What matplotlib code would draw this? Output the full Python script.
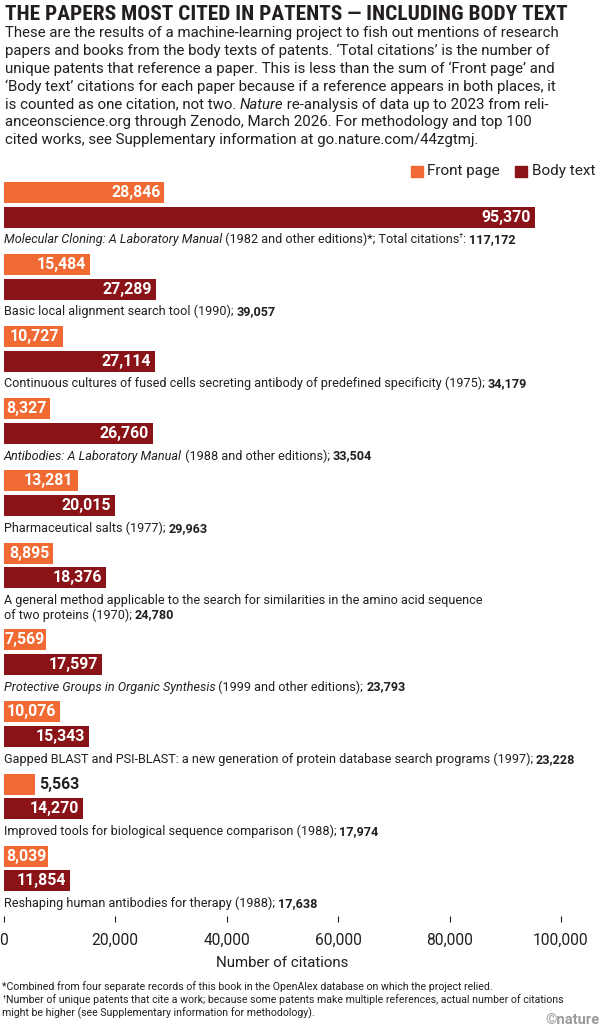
import re
import matplotlib
matplotlib.use("Agg")
import matplotlib.pyplot as plt
from matplotlib import font_manager as fm
from matplotlib.patches import Rectangle

W, H, DPI = 600, 1027, 100

# ---- data ----
front_page = [28846, 15484, 10727, 8327, 13281, 8895, 7569, 10076, 5563, 8039]
body_text = [95370, 27289, 27114, 26760, 20015, 18376, 17597, 15343, 14270, 11854]
total_citations = [117172, 39057, 34179, 33504, 29963, 24780, 23793, 23228, 17974, 17638]
# '_' toggles italic, '^' toggles superscript
paper_labels = [
    "_Molecular Cloning: A Laboratory Manual_ (1982 and other editions)*; Total citations^\u2020^: ",
    "Basic local alignment search tool (1990); ",
    "Continuous cultures of fused cells secreting antibody of predefined specificity (1975); ",
    "_Antibodies: A Laboratory Manual_ (1988 and other editions); ",
    "Pharmaceutical salts (1977); ",
    "A general method applicable to the search for similarities in the amino acid sequence\nof two proteins (1970); ",
    "_Protective Groups in Organic Synthesis_ (1999 and other editions); ",
    "Gapped BLAST and PSI-BLAST: a new generation of protein database search programs (1997); ",
    "Improved tools for biological sequence comparison (1988); ",
    "Reshaping human antibodies for therapy (1988); ",
]
x_ticks = [0, 20000, 40000, 60000, 80000, 100000]
legend_labels = ["Front page", "Body text"]

title = "THE PAPERS MOST CITED IN PATENTS \u2014 INCLUDING BODY TEXT"
subtitle = [
    "These are the results of a machine-learning project to fish out mentions of research",
    "papers and books from the body texts of patents. \u2018Total citations\u2019 is the number of",
    "unique patents that reference a paper. This is less than the sum of \u2018Front page\u2019 and",
    "\u2018Body text\u2019 citations for each paper because if a reference appears in both places, it",
    "is counted as one citation, not two. _Nature_ re-analysis of data up to 2023 from reli-",
    "anceonscience.org through Zenodo, March 2026. For methodology and top 100",
    "cited works, see Supplementary information at go.nature.com/44zgtmj.",
]
footnotes = [
    "*Combined from four separate records of this book in the OpenAlex database on which the project relied.",
    "^\u2020^Number of unique patents that cite a work; because some patents make multiple references, actual number of citations",
    "might be higher (see Supplementary information for methodology).",
]

ORANGE = "#F26A33"
DARK = "#8A1318"
INK = "#231F20"

BODY_FONT = "Roboto"
names = {f.name for f in fm.fontManager.ttflist}
TITLE_FONT, TITLE_STRETCH = "DejaVu Sans", "condensed"
for cand in ["Roboto Condensed", "Liberation Sans Narrow", "Open Sans Condensed", "DejaVu Sans Condensed"]:
    if cand in names:
        TITLE_FONT, TITLE_STRETCH = cand, "normal"
        break

plt.rcParams["font.family"] = [BODY_FONT, "DejaVu Sans"]

fig = plt.figure(figsize=(W / DPI, H / DPI), dpi=DPI)
fig.patch.set_facecolor("white")
renderer = fig.canvas.get_renderer()


def ink_width(s, **kw):
    t = fig.text(0, 0, s, **kw)
    w = t.get_window_extent(renderer).width
    t.remove()
    return w


def advance(s, **kw):
    return ink_width(s + "|", **kw) - ink_width("|", **kw)


def fit(s, target, **kw):
    return 10 * target / ink_width(s, fontsize=10, **kw)


def rich(x, y, markup, size, color=INK, family=None):
    # y = baseline in pixels from the top
    it = bold = sup = False
    for part in re.split(r"([_~^])", markup):
        if part == "_":
            it = not it
            continue
        if part == "~":
            bold = not bold
            continue
        if part == "^":
            sup = not sup
            continue
        if not part:
            continue
        kw = dict(fontsize=size * (0.6 if sup else 1.0),
                  fontstyle="italic" if it else "normal",
                  fontweight="bold" if bold else "normal", color=color)
        if family:
            kw["family"] = family
        rise = size * 0.42 * DPI / 72 if sup else 0
        fig.text(x / W, 1 - (y - rise) / H, part, ha="left", va="baseline", **kw)
        x += advance(part, **kw)
    return x


# ---- title and intro ----
ts = fit(title, 562, family=TITLE_FONT, fontweight="bold", fontstretch=TITLE_STRETCH)
fig.text(4.6 / W, 1 - 20.5 / H, title, fontsize=ts, family=TITLE_FONT, fontweight="bold",
         fontstretch=TITLE_STRETCH, color=INK, va="baseline", ha="left")

sub_size = fit(subtitle[0], 557)
for i, line in enumerate(subtitle):
    rich(4.6, 37.5 + 17.8 * i, line, sub_size)

# ---- bars ----
X0, X1, AX_TOP, AX_BOT = 3.5, 561.0, 175.0, 922.0
ax = fig.add_axes([X0 / W, 1 - AX_BOT / H, (X1 - X0) / W, (AX_BOT - AX_TOP) / H])
ax.set_xlim(0, 100000)
ax.set_ylim(AX_BOT, AX_TOP)
px_per_unit = (X1 - X0) / 100000

y_front = []
y = 192.5
for lab in paper_labels:
    y_front.append(y)
    y += 72.1 + 14.7 * lab.count("\n")
y_body = [v + 24.8 for v in y_front]

ax.barh(y_front, front_page, height=21, color=ORANGE)
ax.barh(y_body, body_text, height=21, color=DARK)

val_size = fit("28,846", 49.5, fontweight="bold")
for ys, vals in [(y_front, front_page), (y_body, body_text)]:
    for yy, v in zip(ys, vals):
        s = f"{v:,}"
        w = ink_width(s, fontsize=val_size, fontweight="bold")
        bar_px = v * px_per_unit
        kw = dict(va="center", fontsize=val_size, fontweight="bold")
        if bar_px - w >= 8:
            ax.annotate(s, (v, yy), xytext=(-4 * 72 / DPI, 0), textcoords="offset points",
                        ha="right", color="white", **kw)
        elif bar_px - w > -2:
            # tight fit: centre the number in the bar
            ax.annotate(s, (v / 2, yy), ha="center", color="white", **kw)
        else:
            ax.annotate(s, (v, yy), xytext=(5 * 72 / DPI, 0), textcoords="offset points",
                        ha="left", color=INK, **kw)

lab_size = fit("Continuous cultures of fused cells secreting antibody of predefined specificity (1975); 34,179", 520)
for yb, lab, tot in zip(y_body, paper_labels, total_citations):
    lines = lab.split("\n")
    for j, line in enumerate(lines):
        base = yb + 26 + 14.7 * j
        if j == len(lines) - 1:
            line = line + "~" + f"{tot:,}" + "~"
        rich(X0, base, line, lab_size)

# ---- axis ----
tick_size = fit("100,000", 55)
ax.set_xticks(x_ticks)
ax.set_xticklabels([f"{t:,}" for t in x_ticks])
ax.tick_params(axis="x", direction="in", length=6 * 72 / DPI, width=0.8, color=INK,
               labelsize=tick_size, labelcolor=INK, pad=8)
ax.tick_params(axis="y", left=False, labelleft=False)
for sp in ax.spines.values():
    sp.set_visible(False)
ax.set_xlabel("Number of citations", fontsize=fit("Number of citations", 133), color=INK,
              labelpad=6)

# ---- legend ----
leg_size = fit(legend_labels[0], 73)
sq = 11.5
xr = 595.0
w_body = ink_width(legend_labels[1], fontsize=leg_size)
w_front = ink_width(legend_labels[0], fontsize=leg_size)
x_body_txt = xr - w_body
x_body_sq = x_body_txt - 5 - sq
x_front_txt = x_body_sq - 15 - w_front
x_front_sq = x_front_txt - 4.5 - sq
for xs, xt, col, lab in [(x_front_sq, x_front_txt, ORANGE, legend_labels[0]),
                         (x_body_sq, x_body_txt, DARK, legend_labels[1])]:
    fig.patches.append(Rectangle((xs / W, 1 - 177 / H), sq / W, sq / H, color=col,
                                 transform=fig.transFigure, figure=fig))
    fig.text(xt / W, 1 - 175.5 / H, lab, fontsize=leg_size, color=INK, va="baseline", ha="left")

# ---- footnotes ----
fn_size = fit(footnotes[1].replace("^\u2020^", ""), 556)
for i, line in enumerate(footnotes):
    rich(2.5, 990 + 13.3 * i, line, fn_size)

nat_size = fit("\u00a9nature", 54, fontweight="bold")
fig.text(599 / W, 1 - 1023.5 / H, "\u00a9nature", fontsize=nat_size, fontweight="bold",
         color="#9B9B9B", ha="right", va="baseline")

fig.savefig("out.png", dpi=DPI)
